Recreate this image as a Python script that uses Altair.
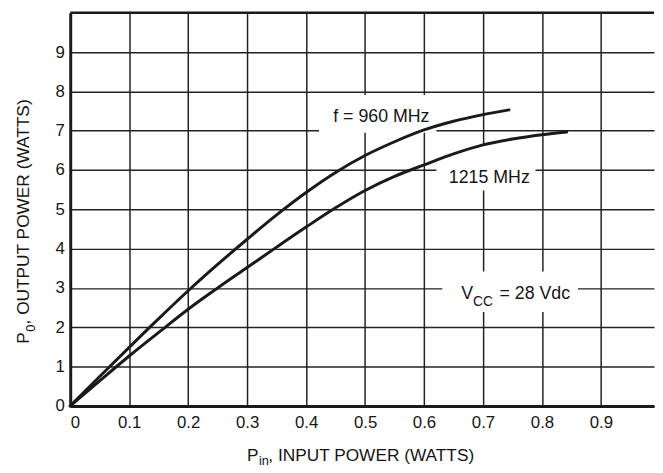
import altair as alt
import pandas as pd

# ---- data ----
p_in_960 = [0, 0.05, 0.1, 0.15, 0.2, 0.25, 0.3, 0.35, 0.4, 0.45, 0.5, 0.55, 0.6, 0.65, 0.7, 0.744]
p_out_960 = [0, 0.75, 1.49, 2.22, 2.93, 3.60, 4.24, 4.86, 5.43, 5.94, 6.37, 6.72, 7.02, 7.24, 7.41, 7.53]

p_in_1215 = [0, 0.05, 0.1, 0.15, 0.2, 0.25, 0.3, 0.35, 0.4, 0.45, 0.5, 0.55, 0.6, 0.65, 0.7, 0.75, 0.8, 0.842]
p_out_1215 = [0, 0.64, 1.27, 1.87, 2.46, 3.00, 3.52, 4.04, 4.55, 5.04, 5.48, 5.84, 6.13, 6.41, 6.64, 6.79, 6.90, 6.97]

x_ticks = [0, 0.1, 0.2, 0.3, 0.4, 0.5, 0.6, 0.7, 0.8, 0.9]
y_ticks = [0, 1, 2, 3, 4, 5, 6, 7, 8, 9]

# annotation texts (data coords)
ann_text = ["f = 960 MHz", "1215 MHz", "V", "CC", "= 28 Vdc"]
ann_x = [0.446, 0.642, 0.663, 0.683, 0.728]
ann_y = [7.22, 5.67, 2.73, 2.55, 2.73]
ann_size = [18, 18, 18, 14, 18]

# white label backgrounds that interrupt the grid (data coords)
box_x = [0.422, 0.621, 0.631]
box_x2 = [0.621, 0.789, 0.861]
box_y = [6.95, 5.48, 2.39]
box_y2 = [7.91, 6.61, 3.42]

# axis title pieces
xt_text = ["P", "in", ", INPUT POWER (WATTS)"]
yt_text = ["P", "0", ", OUTPUT POWER (WATTS)"]

FONT = "Liberation Sans"
INK = "#1a1a1a"
TXT = "#151515"
W, H = 591, 398

curves = pd.DataFrame({
    "pin": p_in_960 + p_in_1215,
    "pout": p_out_960 + p_out_1215,
    "series": ["960"] * len(p_in_960) + ["1215"] * len(p_in_1215),
})
ann = pd.DataFrame({"x": ann_x, "y": ann_y, "text": ann_text, "size": ann_size})
boxes = pd.DataFrame({"x": box_x, "x2": box_x2, "y": box_y, "y2": box_y2})

xscale = alt.Scale(domain=[0, 0.99], nice=False, zero=False)
yscale = alt.Scale(domain=[0, 10], nice=False)

axis_common = dict(
    grid=True, gridColor="#222222", gridWidth=1.5, gridOpacity=1,
    ticks=False, domainWidth=3, domainColor=INK,
    labelFontSize=17, labelFont=FONT, labelColor=TXT, title=None,
)

lines = alt.Chart(curves).mark_line(
    color=INK, strokeWidth=3, interpolate="monotone", strokeCap="round"
).encode(
    x=alt.X("pin:Q", scale=xscale,
            axis=alt.Axis(values=x_ticks, format=".1~f", labelPadding=9,
                          labelFlush=True, **axis_common)),
    y=alt.Y("pout:Q", scale=yscale,
            axis=alt.Axis(values=y_ticks, labelPadding=6, **axis_common)),
    detail="series:N",
)

rects = alt.Chart(boxes).mark_rect(fill="white").encode(
    x=alt.X("x:Q", scale=xscale), x2="x2:Q",
    y=alt.Y("y:Q", scale=yscale), y2="y2:Q",
)

texts = alt.Chart(ann).mark_text(
    align="left", baseline="alphabetic", font=FONT, color=TXT
).encode(
    x=alt.X("x:Q", scale=xscale),
    y=alt.Y("y:Q", scale=yscale),
    text="text:N",
    size=alt.Size("size:Q", scale=None, legend=None),
)

top_rule = alt.Chart(alt.Data(values=[{}])).mark_rule(color=INK, strokeWidth=2.5).encode(
    x=alt.value(0), x2=alt.value(W), y=alt.value(0)
)

one = alt.Data(values=[{}])


def piece(txt, px, py, size, angle=0):
    kw = dict(align="left", baseline="alphabetic", font=FONT, fontSize=size, color=TXT)
    if angle:
        kw["angle"] = angle
    return alt.Chart(one).mark_text(**kw).encode(
        x=alt.value(px), y=alt.value(py), text=alt.value(txt)
    )


xtitle = [
    piece(xt_text[0], 179, 454, 17.5),
    piece(xt_text[1], 191, 458, 13),
    piece(xt_text[2], 200.5, 454, 17.5),
]
ytitle = [
    piece(yt_text[0], -41.7, 335, 17.5, 270),
    piece(yt_text[1], -36, 323, 13, 270),
    piece(yt_text[2], -41.7, 315.5, 17.5, 270),
]

chart = alt.layer(rects, lines, texts, top_rule, *xtitle, *ytitle).properties(
    width=W, height=H,
    autosize=alt.AutoSizeParams(type="none"),
    padding={"left": 63, "top": 2, "right": 1, "bottom": 62},
    background="white",
).configure_view(strokeWidth=0)

chart.save("out.html", embed_options={"renderer": "svg", "actions": False})
